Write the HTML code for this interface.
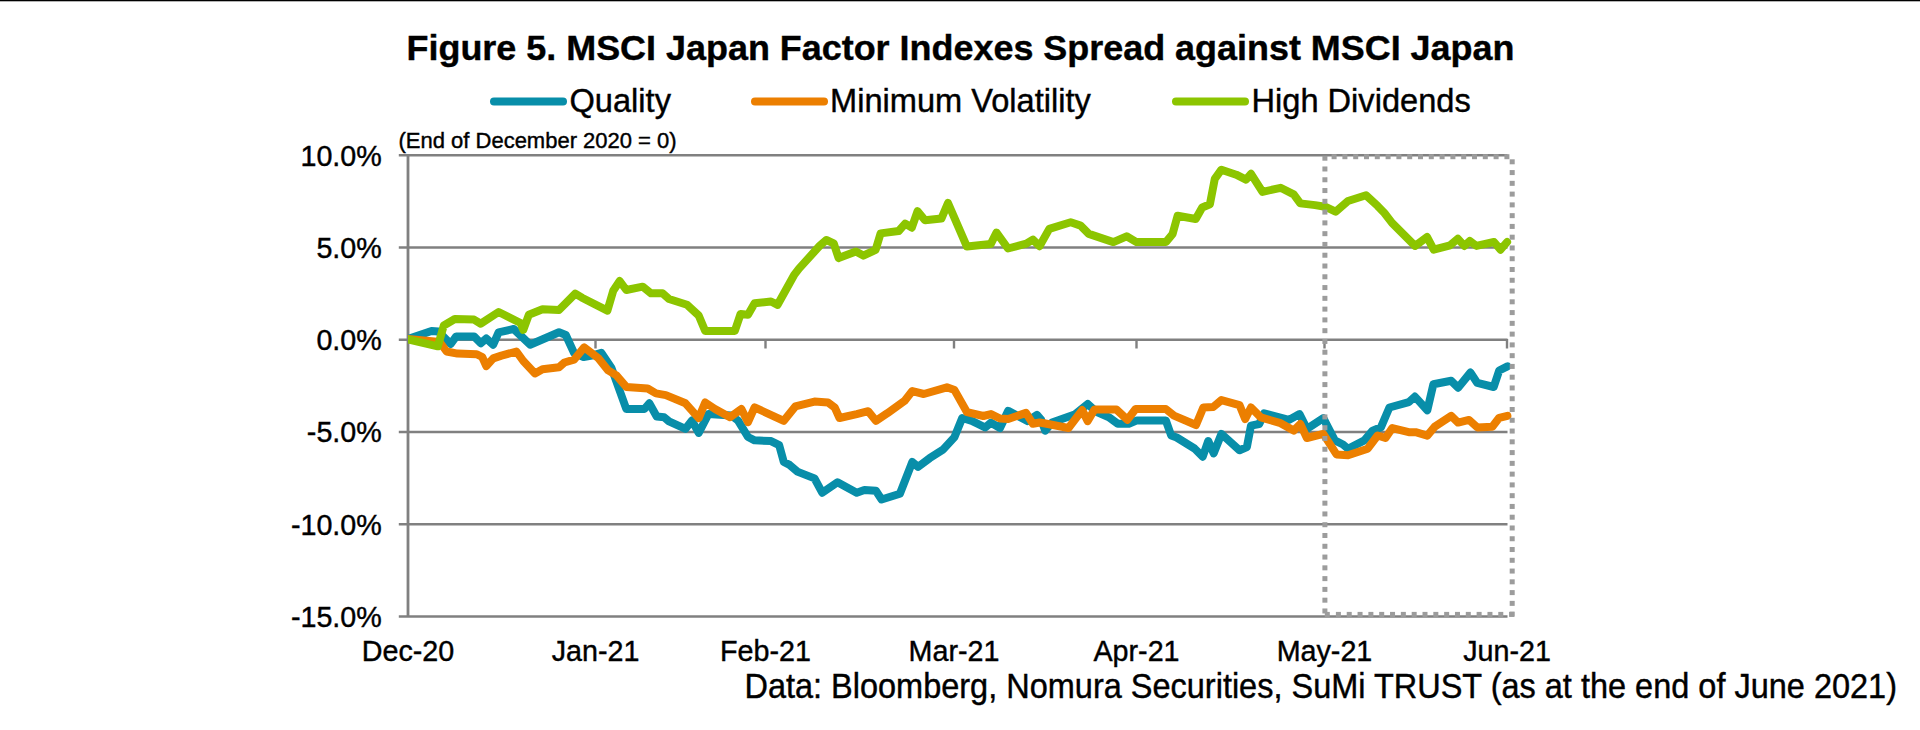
<!DOCTYPE html>
<html><head><meta charset="utf-8"><style>
html,body{margin:0;padding:0;background:#fff;width:1920px;height:730px;overflow:hidden}
svg{display:block}
text{font-family:"Liberation Sans",sans-serif;fill:#000;stroke:#000;stroke-width:0.4px}
.ax{font-size:28px}
.title{font-size:35.94px;font-weight:bold}
.leg{font-size:32px}
.sub{font-size:21.5px}
.src{font-size:32px}
</style></head><body>
<svg width="1920" height="730" viewBox="0 0 1920 730">
<defs><clipPath id="pc"><rect x="408" y="100" width="1200" height="560"/></clipPath></defs>
<rect x="0" y="0" width="1920" height="1.3" fill="#000"/>
<line x1="398.8" y1="155.20" x2="1507.5" y2="155.20" stroke="#808080" stroke-width="2.5"/>
<text transform="translate(381.8,165.5) scale(1,1.05)" text-anchor="end" style="font-size:28.7px;font-weight:normal">10.0%</text>
<line x1="398.8" y1="247.46" x2="1507.5" y2="247.46" stroke="#808080" stroke-width="2.5"/>
<text transform="translate(381.8,257.76) scale(1,1.05)" text-anchor="end" style="font-size:28.7px;font-weight:normal">5.0%</text>
<line x1="398.8" y1="339.72" x2="1507.5" y2="339.72" stroke="#808080" stroke-width="2.5"/>
<text transform="translate(381.8,350.02) scale(1,1.05)" text-anchor="end" style="font-size:28.7px;font-weight:normal">0.0%</text>
<line x1="398.8" y1="431.98" x2="1507.5" y2="431.98" stroke="#808080" stroke-width="2.5"/>
<text transform="translate(381.8,442.28) scale(1,1.05)" text-anchor="end" style="font-size:28.7px;font-weight:normal">-5.0%</text>
<line x1="398.8" y1="524.24" x2="1507.5" y2="524.24" stroke="#808080" stroke-width="2.5"/>
<text transform="translate(381.8,534.54) scale(1,1.05)" text-anchor="end" style="font-size:28.7px;font-weight:normal">-10.0%</text>
<line x1="398.8" y1="616.50" x2="1507.5" y2="616.50" stroke="#808080" stroke-width="2.5"/>
<text transform="translate(381.8,626.8) scale(1,1.05)" text-anchor="end" style="font-size:28.7px;font-weight:normal">-15.0%</text>
<line x1="408" y1="154" x2="408" y2="616.5" stroke="#808080" stroke-width="2.8"/>
<text transform="translate(408,660.8) scale(1,1.05)" text-anchor="middle" style="font-size:28.7px;font-weight:normal">Dec-20</text>
<line x1="595.5" y1="339" x2="595.5" y2="348.5" stroke="#808080" stroke-width="2.4"/>
<text transform="translate(595.5,660.8) scale(1,1.05)" text-anchor="middle" style="font-size:28.7px;font-weight:normal">Jan-21</text>
<line x1="765.5" y1="339" x2="765.5" y2="348.5" stroke="#808080" stroke-width="2.4"/>
<text transform="translate(765.5,660.8) scale(1,1.05)" text-anchor="middle" style="font-size:28.7px;font-weight:normal">Feb-21</text>
<line x1="954" y1="339" x2="954" y2="348.5" stroke="#808080" stroke-width="2.4"/>
<text transform="translate(954,660.8) scale(1,1.05)" text-anchor="middle" style="font-size:28.7px;font-weight:normal">Mar-21</text>
<line x1="1136.5" y1="339" x2="1136.5" y2="348.5" stroke="#808080" stroke-width="2.4"/>
<text transform="translate(1136.5,660.8) scale(1,1.05)" text-anchor="middle" style="font-size:28.7px;font-weight:normal">Apr-21</text>
<line x1="1324.5" y1="339" x2="1324.5" y2="348.5" stroke="#808080" stroke-width="2.4"/>
<text transform="translate(1324.5,660.8) scale(1,1.05)" text-anchor="middle" style="font-size:28.7px;font-weight:normal">May-21</text>
<line x1="1507" y1="339" x2="1507" y2="348.5" stroke="#808080" stroke-width="2.4"/>
<text transform="translate(1507,660.8) scale(1,1.05)" text-anchor="middle" style="font-size:28.7px;font-weight:normal">Jun-21</text>
<polyline points="408,339 431.5,331 438.4,331.6 450.7,344 456.2,336.4 474,336.4 480.8,343.3 486.3,338.5 493.2,344.7 498.6,332.3 513.7,329 530.1,344.7 559,332.3 565.8,335 574,352.9 583.6,357 591.8,355.6 601.4,352.9 611.5,368 626.3,409 644.4,409 649.3,403.3 656.7,416.5 664.1,417.3 669,421.4 685.5,428.8 692,420.6 698.7,432.9 708.5,414 731.5,415.6 738.1,420.6 748,437 754.6,440.3 771,441.1 779.2,445.2 783.8,462 789.6,464.9 797.3,471.6 814.5,478.4 822.2,492.7 837.5,482.2 856.7,492.7 864.4,489.9 875.9,490.8 881.6,499.5 899.9,493.7 912.3,462 918.1,466.9 929.6,458.2 943,449.6 954.5,437.1 962.2,418 971.8,420.8 985.2,427.5 991,422.7 1000,428 1008.2,410.8 1027.4,421.1 1037,415 1041.1,419.7 1045.2,430.7 1052,422.5 1075.3,414.2 1087.7,404 1095.9,411.5 1109.6,417.7 1117.8,423.8 1128.8,423.8 1137,420.4 1165.8,420.4 1171.2,435.5 1176.7,437.5 1194.5,448.5 1202.7,456.7 1208.2,441 1213.7,453.3 1221.4,433.9 1239.5,450.3 1246.9,447 1251,425.6 1259.2,424 1264.1,413.3 1288.8,419.9 1299.5,414.1 1306.9,428.9 1323.3,418.2 1334.8,440.4 1343,444.5 1348,448.7 1364.4,440.4 1372.6,430.6 1380.9,427.3 1389.4,407.5 1408.8,402.1 1414.9,396.6 1427.3,410.3 1433.4,384.2 1451.2,380.8 1458.1,387.7 1470.4,372.6 1477.3,382.9 1493.7,387 1499.2,370.5 1507.4,366.4" fill="none" stroke="#088ea9" stroke-width="8" stroke-linejoin="round" stroke-linecap="round" clip-path="url(#pc)"/>
<polyline points="408,339 439.7,342 446.6,351.5 457.5,353.6 476.7,354.2 482.2,357 486.3,366 493.2,358.4 501.4,355.6 516.4,351.5 523.3,361 535,373.4 542.5,369.3 559,367.3 564.4,362.5 574,359.7 584.2,347.4 598.6,358.4 608.2,370.4 616.4,375.4 626.3,386.9 647.7,388.5 656,393.4 665.8,395.1 685.5,403.3 698.7,418.1 705.2,402.5 715,409 730,417.3 741.4,409 748,422.2 754.6,407.4 783.8,420.8 795.3,406.4 814.5,401.6 828,402.6 834.7,407.4 839.5,418 856.7,414.1 868.2,411.2 875.9,420.8 887.4,413.2 904.7,400.7 912.3,391.1 923.8,394 946.9,387.3 954.5,390.1 967,412.2 983.3,416 991,414.1 1000,418.5 1008.2,419 1026,412.9 1032.9,423.8 1039.7,422.5 1046.6,423.8 1068.5,428 1082.2,410.1 1087.7,421.1 1094.5,409.5 1116.4,409.5 1127.4,419.7 1135.6,409 1165.8,409 1174,415.6 1196,425 1203.3,407.5 1213.2,407 1221.4,400.1 1239.5,405.1 1245.2,419 1251,407.5 1260.8,417.4 1280.6,423.2 1293.7,430.6 1300.3,424 1306.9,438 1323.3,433.9 1336.5,454.4 1348,455.2 1367.7,448.7 1377.6,435.5 1385.5,438 1392.3,428.1 1408.8,432.2 1415.6,432.2 1427.3,435.6 1434.8,426.7 1451.2,415.8 1458.1,422.6 1469,419.9 1477.3,427.4 1492.3,426.7 1499.2,417.8 1507.4,415.8" fill="none" stroke="#ec7f00" stroke-width="8" stroke-linejoin="round" stroke-linecap="round" clip-path="url(#pc)"/>
<polyline points="408.2,339.5 437.8,346.3 443.8,325.5 454.8,319 474,319.6 480.8,323.7 498.6,312 520.5,323 523.3,329.9 528.8,314.8 542.5,309.3 559,310 575.3,293.6 582,297.7 607.4,310.6 613.2,290.8 619.7,281 626.3,290 642.7,286.7 651,293.3 662.5,293.3 669,299 687,304.8 698.7,315.5 705.2,331 734.8,331 740.6,313.9 748,314.7 754.6,303.2 771,301.5 777.6,304.8 794,275.2 799,268.6 819.7,245.8 826.3,240 833.7,243.3 838.6,258.1 855.9,251.5 863.3,255.6 875.6,249.9 880.6,233.4 898.7,231 905.2,223.6 911.8,227.7 917.6,211.2 925,220.3 941.4,218.6 948,203 966.9,246.6 990.7,244.1 996.5,232.6 1008,248.5 1026.3,243.7 1032.9,239.6 1039.5,246.2 1049.3,228.9 1070.7,222.3 1080.6,225.6 1088.8,233.9 1113.4,242.1 1126.6,236.3 1136.5,242.1 1166,242.1 1172.6,233.9 1177.6,215.8 1195.7,219 1202.2,207.5 1209.9,204.3 1214.8,178.8 1221.4,169.7 1236.2,174.7 1246,179.6 1251,173.8 1262.5,191.9 1280.6,187.8 1293.7,194.4 1300.3,203.4 1315.1,205.1 1325,206.7 1335.6,211.7 1348,201 1366,195.2 1377.6,205.9 1384.4,213 1392,222.9 1415,245.9 1427.1,237.1 1433.7,249.7 1450.1,245.3 1457.8,238.8 1464.4,245.9 1469.8,241 1476.4,245.9 1494,242 1500.5,249.7 1507.1,242" fill="none" stroke="#8cc500" stroke-width="8" stroke-linejoin="round" stroke-linecap="round" clip-path="url(#pc)"/>
<g fill="#9c9c9c"><rect x="1331.60" y="154.20" width="5.0" height="5.0"/><rect x="1342.40" y="154.20" width="5.0" height="5.0"/><rect x="1353.20" y="154.20" width="5.0" height="5.0"/><rect x="1364.00" y="154.20" width="5.0" height="5.0"/><rect x="1374.80" y="154.20" width="5.0" height="5.0"/><rect x="1385.60" y="154.20" width="5.0" height="5.0"/><rect x="1396.40" y="154.20" width="5.0" height="5.0"/><rect x="1407.20" y="154.20" width="5.0" height="5.0"/><rect x="1418.00" y="154.20" width="5.0" height="5.0"/><rect x="1428.80" y="154.20" width="5.0" height="5.0"/><rect x="1439.60" y="154.20" width="5.0" height="5.0"/><rect x="1450.40" y="154.20" width="5.0" height="5.0"/><rect x="1461.20" y="154.20" width="5.0" height="5.0"/><rect x="1472.00" y="154.20" width="5.0" height="5.0"/><rect x="1482.80" y="154.20" width="5.0" height="5.0"/><rect x="1493.60" y="154.20" width="5.0" height="5.0"/><rect x="1504.40" y="154.20" width="5.0" height="5.0"/><rect x="1322.40" y="155.70" width="5.0" height="5.0"/><rect x="1322.40" y="166.48" width="5.0" height="5.0"/><rect x="1322.40" y="177.26" width="5.0" height="5.0"/><rect x="1322.40" y="188.04" width="5.0" height="5.0"/><rect x="1322.40" y="198.82" width="5.0" height="5.0"/><rect x="1322.40" y="209.60" width="5.0" height="5.0"/><rect x="1322.40" y="220.38" width="5.0" height="5.0"/><rect x="1322.40" y="231.16" width="5.0" height="5.0"/><rect x="1322.40" y="241.94" width="5.0" height="5.0"/><rect x="1322.40" y="252.72" width="5.0" height="5.0"/><rect x="1322.40" y="263.50" width="5.0" height="5.0"/><rect x="1322.40" y="274.28" width="5.0" height="5.0"/><rect x="1322.40" y="285.06" width="5.0" height="5.0"/><rect x="1322.40" y="295.84" width="5.0" height="5.0"/><rect x="1322.40" y="306.62" width="5.0" height="5.0"/><rect x="1322.40" y="317.40" width="5.0" height="5.0"/><rect x="1322.40" y="328.18" width="5.0" height="5.0"/><rect x="1322.40" y="338.96" width="5.0" height="5.0"/><rect x="1322.40" y="349.74" width="5.0" height="5.0"/><rect x="1322.40" y="360.52" width="5.0" height="5.0"/><rect x="1322.40" y="371.30" width="5.0" height="5.0"/><rect x="1322.40" y="382.08" width="5.0" height="5.0"/><rect x="1322.40" y="392.86" width="5.0" height="5.0"/><rect x="1322.40" y="403.64" width="5.0" height="5.0"/><rect x="1322.40" y="414.42" width="5.0" height="5.0"/><rect x="1322.40" y="425.20" width="5.0" height="5.0"/><rect x="1322.40" y="435.98" width="5.0" height="5.0"/><rect x="1322.40" y="446.76" width="5.0" height="5.0"/><rect x="1322.40" y="457.54" width="5.0" height="5.0"/><rect x="1322.40" y="468.32" width="5.0" height="5.0"/><rect x="1322.40" y="479.10" width="5.0" height="5.0"/><rect x="1322.40" y="489.88" width="5.0" height="5.0"/><rect x="1322.40" y="500.66" width="5.0" height="5.0"/><rect x="1322.40" y="511.44" width="5.0" height="5.0"/><rect x="1322.40" y="522.22" width="5.0" height="5.0"/><rect x="1322.40" y="533.00" width="5.0" height="5.0"/><rect x="1322.40" y="543.78" width="5.0" height="5.0"/><rect x="1322.40" y="554.56" width="5.0" height="5.0"/><rect x="1322.40" y="565.34" width="5.0" height="5.0"/><rect x="1322.40" y="576.12" width="5.0" height="5.0"/><rect x="1322.40" y="586.90" width="5.0" height="5.0"/><rect x="1322.40" y="597.68" width="5.0" height="5.0"/><rect x="1322.40" y="608.46" width="5.0" height="5.0"/><rect x="1509.70" y="159.30" width="5.0" height="5.0"/><rect x="1509.70" y="170.07" width="5.0" height="5.0"/><rect x="1509.70" y="180.84" width="5.0" height="5.0"/><rect x="1509.70" y="191.61" width="5.0" height="5.0"/><rect x="1509.70" y="202.38" width="5.0" height="5.0"/><rect x="1509.70" y="213.15" width="5.0" height="5.0"/><rect x="1509.70" y="223.92" width="5.0" height="5.0"/><rect x="1509.70" y="234.69" width="5.0" height="5.0"/><rect x="1509.70" y="245.46" width="5.0" height="5.0"/><rect x="1509.70" y="256.23" width="5.0" height="5.0"/><rect x="1509.70" y="267.00" width="5.0" height="5.0"/><rect x="1509.70" y="277.77" width="5.0" height="5.0"/><rect x="1509.70" y="288.54" width="5.0" height="5.0"/><rect x="1509.70" y="299.31" width="5.0" height="5.0"/><rect x="1509.70" y="310.08" width="5.0" height="5.0"/><rect x="1509.70" y="320.85" width="5.0" height="5.0"/><rect x="1509.70" y="331.62" width="5.0" height="5.0"/><rect x="1509.70" y="342.39" width="5.0" height="5.0"/><rect x="1509.70" y="353.16" width="5.0" height="5.0"/><rect x="1509.70" y="363.93" width="5.0" height="5.0"/><rect x="1509.70" y="374.70" width="5.0" height="5.0"/><rect x="1509.70" y="385.47" width="5.0" height="5.0"/><rect x="1509.70" y="396.24" width="5.0" height="5.0"/><rect x="1509.70" y="407.01" width="5.0" height="5.0"/><rect x="1509.70" y="417.78" width="5.0" height="5.0"/><rect x="1509.70" y="428.55" width="5.0" height="5.0"/><rect x="1509.70" y="439.32" width="5.0" height="5.0"/><rect x="1509.70" y="450.09" width="5.0" height="5.0"/><rect x="1509.70" y="460.86" width="5.0" height="5.0"/><rect x="1509.70" y="471.63" width="5.0" height="5.0"/><rect x="1509.70" y="482.40" width="5.0" height="5.0"/><rect x="1509.70" y="493.17" width="5.0" height="5.0"/><rect x="1509.70" y="503.94" width="5.0" height="5.0"/><rect x="1509.70" y="514.71" width="5.0" height="5.0"/><rect x="1509.70" y="525.48" width="5.0" height="5.0"/><rect x="1509.70" y="536.25" width="5.0" height="5.0"/><rect x="1509.70" y="547.02" width="5.0" height="5.0"/><rect x="1509.70" y="557.79" width="5.0" height="5.0"/><rect x="1509.70" y="568.56" width="5.0" height="5.0"/><rect x="1509.70" y="579.33" width="5.0" height="5.0"/><rect x="1509.70" y="590.10" width="5.0" height="5.0"/><rect x="1509.70" y="600.87" width="5.0" height="5.0"/><rect x="1509.70" y="611.64" width="5.0" height="5.0"/><rect x="1324.80" y="611.90" width="5.0" height="5.0"/><rect x="1335.90" y="611.90" width="5.0" height="5.0"/><rect x="1346.73" y="611.90" width="5.0" height="5.0"/><rect x="1357.55" y="611.90" width="5.0" height="5.0"/><rect x="1368.38" y="611.90" width="5.0" height="5.0"/><rect x="1379.20" y="611.90" width="5.0" height="5.0"/><rect x="1390.03" y="611.90" width="5.0" height="5.0"/><rect x="1400.85" y="611.90" width="5.0" height="5.0"/><rect x="1411.68" y="611.90" width="5.0" height="5.0"/><rect x="1422.50" y="611.90" width="5.0" height="5.0"/><rect x="1433.33" y="611.90" width="5.0" height="5.0"/><rect x="1444.15" y="611.90" width="5.0" height="5.0"/><rect x="1454.98" y="611.90" width="5.0" height="5.0"/><rect x="1465.80" y="611.90" width="5.0" height="5.0"/><rect x="1476.62" y="611.90" width="5.0" height="5.0"/><rect x="1487.45" y="611.90" width="5.0" height="5.0"/><rect x="1498.28" y="611.90" width="5.0" height="5.0"/><rect x="1509.10" y="611.90" width="5.0" height="5.0"/></g>
<text x="960.5" y="60" text-anchor="middle" class="title">Figure 5. MSCI Japan Factor Indexes Spread against MSCI Japan</text>
<line x1="494" y1="101.5" x2="563" y2="101.5" stroke="#088ea9" stroke-width="8" stroke-linecap="round"/>
<text transform="translate(569.5,111.8) scale(1,1.04)" text-anchor="start" style="font-size:32.6px;font-weight:normal">Quality</text>
<line x1="755" y1="101.5" x2="824" y2="101.5" stroke="#ec7f00" stroke-width="8" stroke-linecap="round"/>
<text transform="translate(830,111.8) scale(1,1.04)" text-anchor="start" style="font-size:32.6px;font-weight:normal">Minimum Volatility</text>
<line x1="1176" y1="101.5" x2="1245" y2="101.5" stroke="#8cc500" stroke-width="8" stroke-linecap="round"/>
<text transform="translate(1251.5,111.8) scale(1,1.04)" text-anchor="start" style="font-size:32.6px;font-weight:normal">High Dividends</text>
<text transform="translate(398.5,147.8) scale(1,1.04)" text-anchor="start" style="font-size:22px;font-weight:normal">(End of December 2020 = 0)</text>
<text transform="translate(1897,697.5) scale(1,1.055)" text-anchor="end" style="font-size:32.5px;font-weight:normal">Data: Bloomberg, Nomura Securities, SuMi TRUST (as at the end of June 2021)</text>
</svg>
</body></html>
